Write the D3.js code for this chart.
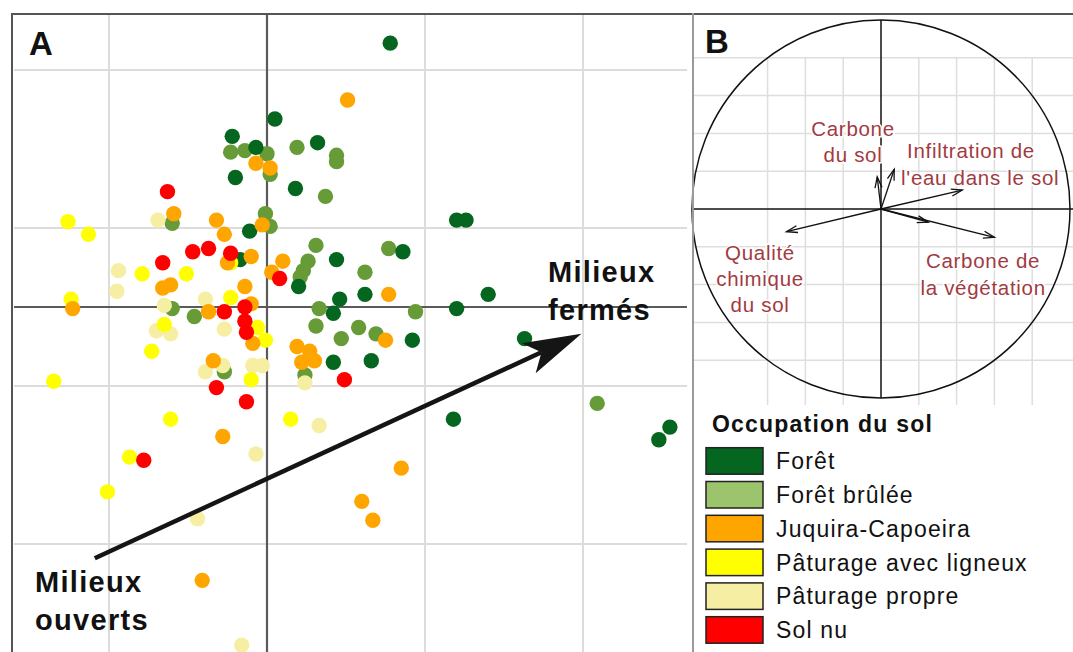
<!DOCTYPE html>
<html><head><meta charset="utf-8">
<script src="https://cdn.jsdelivr.net/npm/d3@7"></script>
<style>body{margin:0;background:#fff}svg{display:block}text{font-family:"Liberation Sans",Arial,Helvetica,sans-serif}</style>
</head><body><svg id="c" width="1073" height="652"></svg>
<script>
// ---------- DATA ----------
const categories = ["Forêt","Forêt brûlée","Juquira-Capoeira","Pâturage avec ligneux","Pâturage propre","Sol nu"];
const pointColors = ["#05661f","#669b38","#ffa500","#ffff00","#f6eea2","#ff0000"];
const swatchColors = ["#05661f","#9bc46c","#ffa500","#ffff00","#f6eea2","#ff0000"];

const foret = [[0.78,1.67],[0.05,1.19],[-0.22,1.08],[-0.07,1.01],[-0.20,0.82],[0.32,1.04],[0.18,0.75],
  [-0.11,0.48],[-0.17,0.30],[0.44,0.30],[0.20,0.13],[0.46,0.05],[0.42,-0.04],[0.62,0.08],[0.86,0.35],
  [1.20,0.55],[1.26,0.55],[1.20,-0.01],[1.40,0.08],[0.92,-0.21],[0.66,-0.34],[0.42,-0.35],[1.63,-0.20],
  [1.18,-0.71],[2.55,-0.76],[2.48,-0.84]];
const foretBrulee = [[-0.23,0.98],[-0.14,0.99],[0.00,0.97],[0.02,0.84],[0.19,1.01],[0.44,0.96],[0.44,0.92],
  [0.37,0.70],[-0.01,0.59],[0.02,0.51],[0.31,0.39],[0.26,0.29],[0.23,0.23],[0.21,0.19],[-0.60,0.53],
  [0.33,-0.01],[0.31,-0.12],[0.77,0.37],[0.62,0.22],[0.94,-0.03],[0.58,-0.13],[0.69,-0.17],[0.47,-0.20],
  [-0.46,-0.06],[-0.60,-0.01],[0.24,-0.43],[-0.27,-0.41],[2.09,-0.61]];
const juquira = [[0.51,1.31],[-0.07,0.91],[0.02,0.88],[-0.59,0.59],[-0.32,0.55],[-0.03,0.52],[-0.27,0.46],
  [-0.10,0.32],[-0.25,0.28],[0.10,0.29],[0.03,0.22],[-0.66,0.12],[-0.61,0.14],[-0.14,0.13],[-0.10,0.02],
  [-0.37,-0.03],[-1.23,-0.01],[0.77,0.08],[0.75,-0.21],[-0.09,-0.23],[0.19,-0.25],[0.27,-0.28],[0.30,-0.34],
  [0.22,-0.35],[-0.34,-0.34],[-0.28,-0.82],[0.85,-1.02],[0.60,-1.23],[0.67,-1.35],[-0.41,-1.73]];
const paturageLigneux = [[-1.26,0.54],[-1.13,0.46],[-0.79,0.21],[-0.51,0.21],[-0.23,0.28],[-0.23,0.06],
  [-1.24,0.05],[-0.65,-0.11],[-0.06,-0.13],[-0.01,-0.21],[-0.73,-0.28],[-0.10,-0.46],[-1.35,-0.47],
  [-0.61,-0.71],[0.15,-0.71],[-0.87,-0.95],[-1.01,-1.17]];
const paturagePropre = [[-0.69,0.55],[-0.94,0.23],[-0.95,0.10],[-0.39,0.05],[-0.65,0.01],[-0.70,-0.15],
  [-0.61,-0.17],[-0.27,-0.14],[-0.39,-0.41],[-0.28,-0.37],[-0.09,-0.37],[-0.03,-0.37],[0.24,-0.48],
  [0.33,-0.75],[-0.07,-0.93],[-0.44,-1.34],[-0.16,-2.14]];
const solNu = [[-0.63,0.73],[-0.47,0.35],[-0.37,0.37],[-0.23,0.34],[-0.66,0.28],[0.08,0.18],[-0.27,-0.03],
  [-0.14,0.00],[-0.14,-0.09],[-0.13,-0.16],[-0.32,-0.51],[-0.13,-0.60],[0.49,-0.46],[-0.78,-0.97]];
const seriesPoints = [foret, foretBrulee, juquira, paturageLigneux, paturagePropre, solNu];
const drawOrder = [1,0,4,3,2,5];

const gridXA = [-1,0,1,2];
const gridYA = [-1.5,-0.5,0.5,1.5];
const arrowStart = [-1.09,-1.59];
const arrowEnd = [1.99,-0.17];

// Panel B: correlation circle
const loadings = [[-0.50,-0.12],[0.60,-0.15],[0.25,-0.07],[0.43,0.10],[-0.02,0.17],[0.07,0.21]];
const gridXB = [-0.6,-0.4,-0.2,0.2,0.4,0.6,0.8];
const gridYB = [-0.8,-0.6,-0.4,-0.2,0.2,0.4,0.6,0.8];
const labelsB = [
  {t:"Carbone", x:-0.148, y:0.386, a:"middle"},
  {t:"du sol", x:-0.148, y:0.248, a:"middle"},
  {t:"Infiltration de", x:0.138, y:0.270, a:"start"},
  {t:"l'eau dans le sol", x:0.106, y:0.127, a:"start"},
  {t:"Qualité", x:-0.64, y:-0.270, a:"middle"},
  {t:"chimique", x:-0.64, y:-0.407, a:"middle"},
  {t:"du sol", x:-0.64, y:-0.545, a:"middle"},
  {t:"Carbone de", x:0.54, y:-0.312, a:"middle"},
  {t:"la végétation", x:0.54, y:-0.455, a:"middle"}
];

// ---------- DRAW ----------
const svg = d3.select("#c");
const W = 1073, H = 652;

// Panel A scales
const xA = d3.scaleLinear().domain([-1,2]).range([109,583]);
const yA = d3.scaleLinear().domain([-1.5,1.5]).range([544,70]);
const gA = svg.append("g");

gA.selectAll(".gx").data(gridXA.filter(d=>d!==0)).join("line")
  .attr("x1",d=>xA(d)).attr("x2",d=>xA(d)).attr("y1",15).attr("y2",H)
  .attr("stroke","#dcdcdc").attr("stroke-width",2);
gA.selectAll(".gy").data(gridYA).join("line")
  .attr("x1",14).attr("x2",687).attr("y1",d=>yA(d)).attr("y2",d=>yA(d))
  .attr("stroke","#dcdcdc").attr("stroke-width",2);
// axes
gA.append("line").attr("x1",xA(0)).attr("x2",xA(0)).attr("y1",15).attr("y2",H)
  .attr("stroke","#5a5a5a").attr("stroke-width",2.2);
gA.append("line").attr("x1",14).attr("x2",687).attr("y1",yA(0)).attr("y2",yA(0))
  .attr("stroke","#5a5a5a").attr("stroke-width",2.2);

// points
drawOrder.forEach(ci=>{
  gA.append("g").selectAll("circle").data(seriesPoints[ci]).join("circle")
    .attr("cx",d=>xA(d[0])).attr("cy",d=>yA(d[1])).attr("r",7.7)
    .attr("fill",pointColors[ci]);
});

// big arrow
(function(){
  const x0=xA(arrowStart[0]), y0=yA(arrowStart[1]), x1=xA(arrowEnd[0]), y1=yA(arrowEnd[1]);
  const ang = Math.atan2(y1-y0, x1-x0);
  const c=Math.cos(ang), s=Math.sin(ang);
  const P=(u,v)=>[x1+u*c - v*s, y1+u*s + v*c];
  const notch=P(-44,0);
  gA.append("line").attr("x1",x0).attr("y1",y0).attr("x2",notch[0]).attr("y2",notch[1])
    .attr("stroke","#151515").attr("stroke-width",4.5);
  const pts=[P(0,0),P(-58,-16.5),P(-44,0),P(-58,16.5)];
  gA.append("path").attr("d","M"+pts.map(p=>p.join(",")).join("L")+"Z").attr("fill","#151515");
})();

// texts A
const boldText=(t,x,y,size,ls)=>svg.append("text").attr("x",x).attr("y",y).text(t)
  .attr("font-size",size).attr("font-weight","bold").attr("letter-spacing",ls).attr("fill","#111");
boldText("A",29,55,33,0);
boldText("Milieux",548,282,29,1.3);
boldText("fermés",548,320,29,1.3);
boldText("Milieux",35,592,29,1.3);
boldText("ouverts",35,630,29,1.3);

// Panel B scales
const xB = d3.scaleLinear().domain([-1,1]).range([692,1070]);
const yB = d3.scaleLinear().domain([-1,1]).range([398,20]);
const gB = svg.append("g");
gB.selectAll(".bx").data(gridXB).join("line")
  .attr("x1",d=>xB(d)).attr("x2",d=>xB(d)).attr("y1",yB(0.8)).attr("y2",405)
  .attr("stroke","#dedede").attr("stroke-width",1.5);
gB.selectAll(".by").data(gridYB).join("line")
  .attr("x1",694).attr("x2",W).attr("y1",d=>yB(d)).attr("y2",d=>yB(d))
  .attr("stroke","#dedede").attr("stroke-width",1.5);
gB.append("circle").attr("cx",xB(0)).attr("cy",yB(0)).attr("r",xB(1)-xB(0))
  .attr("fill","none").attr("stroke","#111").attr("stroke-width",1.5);
gB.append("line").attr("x1",693).attr("x2",W).attr("y1",yB(0)).attr("y2",yB(0))
  .attr("stroke","#111").attr("stroke-width",1.5);
gB.append("line").attr("x1",xB(0)).attr("x2",xB(0)).attr("y1",yB(1)).attr("y2",yB(-1))
  .attr("stroke","#111").attr("stroke-width",1.5);

loadings.forEach(l=>{
  const x0=xB(0), y0=yB(0), x1=xB(l[0]), y1=yB(l[1]);
  const ang=Math.atan2(y1-y0,x1-x0), c=Math.cos(ang), s=Math.sin(ang);
  const P=(u,v)=>[x1+u*c - v*s, y1+u*s + v*c];
  gB.append("line").attr("x1",x0).attr("y1",y0).attr("x2",x1).attr("y2",y1)
    .attr("stroke","#111").attr("stroke-width",1.3);
  const a=P(-11,-3.5), b=P(-11,3.5);
  gB.append("path").attr("d",`M${a}L${x1},${y1}L${b}`).attr("fill","none")
    .attr("stroke","#111").attr("stroke-width",1.3);
});

gB.selectAll(".lb").data(labelsB).join("text")
  .attr("x",d=>xB(d.x)).attr("y",d=>yB(d.y)).attr("text-anchor",d=>d.a)
  .attr("font-size",20.5).attr("letter-spacing",0.7).attr("fill","#a23a42")
  .attr("paint-order","stroke").attr("stroke","#fff").attr("stroke-width",3)
  .text(d=>d.t);
boldText("B",705,53,33,0);

// borders
svg.append("line").attr("x1",12).attr("x2",W).attr("y1",14).attr("y2",14).attr("stroke","#555").attr("stroke-width",2);
svg.append("line").attr("x1",12).attr("x2",12).attr("y1",13).attr("y2",H).attr("stroke","#555").attr("stroke-width",2);
svg.append("line").attr("x1",693).attr("x2",693).attr("y1",13).attr("y2",H).attr("stroke","#9a9a9a").attr("stroke-width",2);

// legend
const lg = svg.append("g");
lg.append("text").attr("x",712).attr("y",432).text("Occupation du sol")
  .attr("font-size",23).attr("font-weight","bold").attr("letter-spacing",1.2).attr("fill","#111");
const rows = lg.selectAll(".row").data(categories).join("g")
  .attr("transform",(d,i)=>`translate(706,${447.7+i*33.8})`);
rows.append("rect").attr("width",57).attr("height",26.5)
  .attr("fill",(d,i)=>swatchColors[i]).attr("stroke","#222").attr("stroke-width",1.5);
rows.append("text").attr("x",70).attr("y",21.5).text(d=>d)
  .attr("font-size",23).attr("letter-spacing",1.15).attr("fill","#111");
</script></body></html>
